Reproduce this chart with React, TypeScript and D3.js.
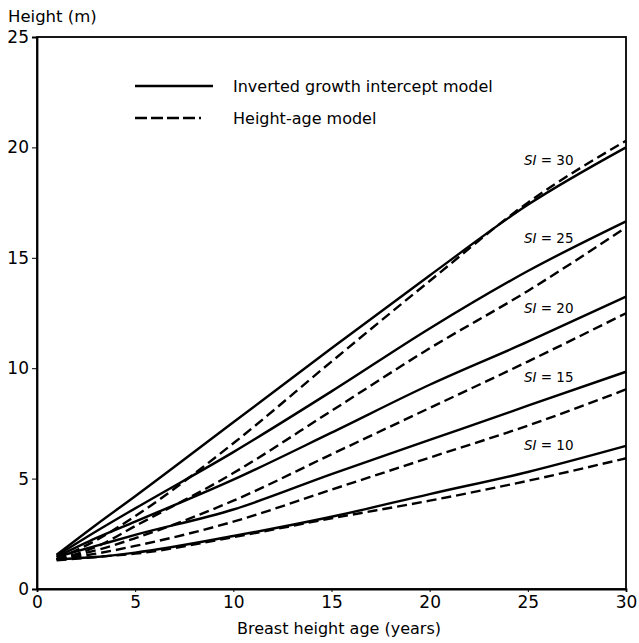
import React, { useEffect, useRef } from "react";
import * as d3 from "d3";

const ages = [1, 3, 5, 10, 15, 20, 25, 30];
const siClasses = [10, 15, 20, 25, 30];

// inverted growth intercept model (solid)
const gi10 = [1.35, 1.45, 1.65, 2.4, 3.27, 4.3, 5.3, 6.48];
const gi15 = [1.45, 1.95, 2.45, 3.6, 5.2, 6.75, 8.3, 9.84];
const gi20 = [1.45, 2.3, 3.05, 4.95, 7.08, 9.25, 11.2, 13.24];
const gi25 = [1.5, 2.6, 3.65, 6.2, 8.95, 11.8, 14.4, 16.65];
const gi30 = [1.55, 2.9, 4.2, 7.55, 10.9, 14.2, 17.4, 20.0];

// height-age model (dashed)
const ha10 = [1.3, 1.45, 1.6, 2.35, 3.2, 4.0, 4.9, 5.92];
const ha15 = [1.35, 1.6, 1.95, 3.05, 4.5, 5.95, 7.4, 9.04];
const ha20 = [1.35, 1.75, 2.3, 4.0, 6.1, 8.2, 10.3, 12.49];
const ha25 = [1.35, 1.9, 2.85, 5.25, 8.07, 10.9, 13.5, 16.38];
const ha30 = [1.35, 2.2, 3.3, 6.6, 10.3, 13.95, 17.5, 20.3];

const labelAge = 24.8;
const labelHeights = [6.5, 9.6, 12.7, 15.9, 19.4];

const xTicks = [0, 5, 10, 15, 20, 25, 30];
const yTicks = [0, 5, 10, 15, 20, 25];

const solidSeries = [gi10, gi15, gi20, gi25, gi30];
const dashedSeries = [ha10, ha15, ha20, ha25, ha30];

const FONT = "'DejaVu Sans', sans-serif";

const App = () => {
  const svgRef = useRef(null);
  const width = 639;
  const height = 643;
  const margin = { top: 37, right: 13, bottom: 54, left: 37 };

  useEffect(() => {
    const svg = d3.select(svgRef.current);
    svg.selectAll("*").remove();

    const x = d3
      .scaleLinear()
      .domain([0, 30])
      .range([margin.left, width - margin.right]);
    const y = d3
      .scaleLinear()
      .domain([0, 25])
      .range([height - margin.bottom, margin.top]);

    const line = d3
      .line()
      .x((d) => x(d[0]))
      .y((d) => y(d[1]))
      .curve(d3.curveMonotoneX);

    // frame
    svg
      .append("rect")
      .attr("x", x(0))
      .attr("y", y(25))
      .attr("width", x(30) - x(0))
      .attr("height", y(0) - y(25))
      .attr("fill", "none")
      .attr("stroke", "#000")
      .attr("stroke-width", 1.8);

    const xAxis = svg
      .append("g")
      .attr("transform", `translate(0, ${y(0)})`)
      .call(d3.axisBottom(x).tickValues(xTicks).tickSize(3).tickPadding(4));
    xAxis.select(".domain").attr("stroke-width", 1.8);
    xAxis
      .selectAll("text")
      .attr("font-family", FONT)
      .attr("font-size", 17)
      .attr("fill", "#000");

    const yAxis = svg
      .append("g")
      .attr("transform", `translate(${x(0)}, 0)`)
      .call(d3.axisLeft(y).tickValues(yTicks).tickSize(5).tickPadding(3));
    yAxis.select(".domain").attr("stroke-width", 1.8);
    yAxis
      .selectAll("text")
      .attr("font-family", FONT)
      .attr("font-size", 17)
      .attr("fill", "#000");

    svg
      .append("text")
      .attr("x", 8)
      .attr("y", 22)
      .attr("font-family", FONT)
      .attr("font-size", 16.5)
      .text("Height (m)");

    svg
      .append("text")
      .attr("x", 339)
      .attr("y", 634)
      .attr("text-anchor", "middle")
      .attr("font-family", FONT)
      .attr("font-size", 16)
      .text("Breast height age (years)");

    solidSeries.forEach((vals) => {
      svg
        .append("path")
        .datum(ages.map((a, i) => [a, vals[i]]))
        .attr("d", line)
        .attr("fill", "none")
        .attr("stroke", "#000")
        .attr("stroke-width", 2.4);
    });

    dashedSeries.forEach((vals) => {
      svg
        .append("path")
        .datum(ages.map((a, i) => [a, vals[i]]))
        .attr("d", line)
        .attr("fill", "none")
        .attr("stroke", "#000")
        .attr("stroke-width", 2.4)
        .attr("stroke-dasharray", "10,5");
    });

    // SI labels
    siClasses.forEach((si, i) => {
      const t = svg
        .append("text")
        .attr("x", x(labelAge))
        .attr("y", y(labelHeights[i]))
        .attr("dy", "0.35em")
        .attr("font-family", FONT)
        .attr("font-size", 13.5);
      t.append("tspan").attr("font-style", "italic").text("SI");
      t.append("tspan").text(` = ${si}`);
    });

    // legend
    const legend = svg.append("g");
    const items = [
      { label: "Inverted growth intercept model", dash: null, yPos: 86 },
      { label: "Height-age model", dash: "12,4,12,4,12,4,12,4,2", yPos: 118 },
    ];
    items.forEach((it) => {
      legend
        .append("line")
        .attr("x1", 135)
        .attr("x2", 213)
        .attr("y1", it.yPos)
        .attr("y2", it.yPos)
        .attr("stroke", "#000")
        .attr("stroke-width", 2.6)
        .attr("stroke-dasharray", it.dash);
      legend
        .append("text")
        .attr("x", 233)
        .attr("y", it.yPos)
        .attr("dy", "0.35em")
        .attr("font-family", FONT)
        .attr("font-size", 16)
        .text(it.label);
    });
  }, []);

  return (
    <svg
      ref={svgRef}
      width={width}
      height={height}
      style={{ position: "absolute", left: 0, top: 0, background: "#fff" }}
    ></svg>
  );
};

export default App;
